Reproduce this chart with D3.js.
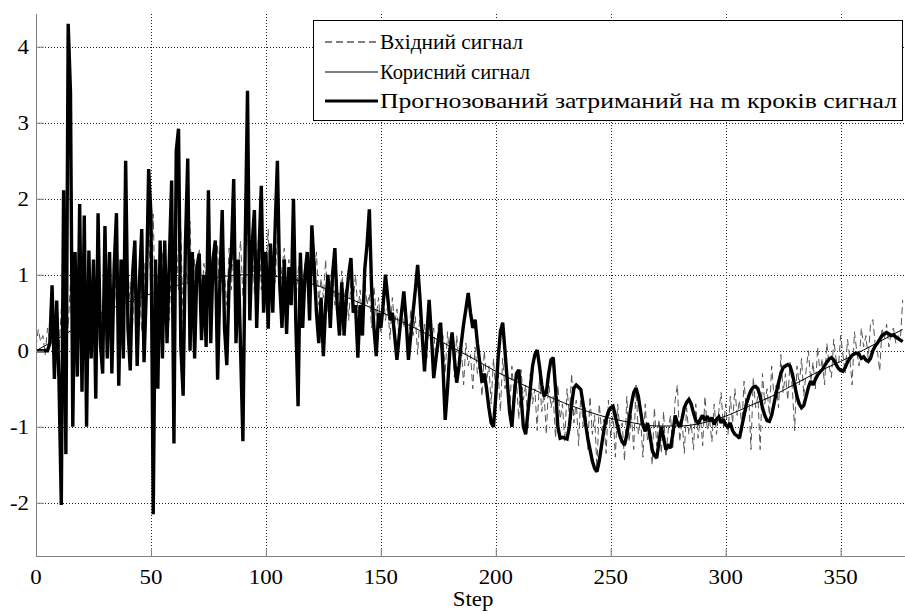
<!DOCTYPE html>
<html>
<head>
<meta charset="utf-8">
<script src="https://cdn.jsdelivr.net/npm/d3@7"></script>
<style>
  body { margin: 0; background: #fff; }
  svg { display: block; }
</style>
</head>
<body>
<svg id="chart" width="905" height="614"></svg>
<script>
// Noisy input signal, one value per step (0..377)
const inputSignal = [
  0.05, 0.28, 0.12, 0.2, -0.05, 0.3, 0.15, 0.45, -0.1, 0.4,
  0.0, 0.55, -0.2, 0.7, 0.3, 0.9, -0.1, 0.6, 0.2, 0.8,
  0.1, 0.55, 0.3, 0.85, 0.05, 0.7, 0.4, 0.9, 0.2, 0.65,
  0.35, 1.0, 0.3, 0.75, 0.5, 1.1, 0.2, 0.8, 0.55, 1.2,
  0.4, 0.9, 0.3, 1.05, 0.6, 0.85, 0.25, 1.15, 0.5, 1.8,
  0.6, 1.8, 0.3, 1.0, 0.55, 1.3, 0.7, 0.95, 0.4, 1.25,
  0.65, 1.5, 0.8, 1.6, 0.35, 1.1, 0.9, 1.7, 0.5, 1.2,
  0.75, 1.35, 0.5, 1.15, 0.95, 1.5, 0.6, 1.25, 0.85, 1.4,
  0.55, 1.2, 1.0, 0.6, 1.35, 0.8, 1.6, 0.45, 1.1, 1.45,
  0.7, 1.3, 1.6, 0.9, 1.45, 0.75, 1.2, 1.55, 0.8, 1.3,
  1.0, 1.6, 0.7, 1.25, 0.9, 1.5, 0.65, 1.1, 1.35, 0.7,
  1.2, 0.85, 1.4, 0.6, 1.05, 1.3, 0.7, 1.15, 0.95, 0.5,
  1.1, 0.8, 1.3, 0.6, 0.95, 0.7, 1.2, 0.5, 0.9, 1.1,
  0.6, 0.95, 0.45, 1.05, 0.7, 0.85, 0.4, 0.9, 0.65, 1.0,
  0.5, 0.8, 0.35, 0.95, 0.6, 0.75, 0.3, 0.85, 0.45, 0.7,
  0.25, 0.8, 0.4, 0.6, 0.15, 0.7, 0.35, 0.55, 0.1, 0.6,
  0.3, 0.5, 0.05, 0.55, 0.2, 0.45, -0.05, 0.5, 0.15, 0.35,
  -0.1, 0.4, 0.1, 0.3, -0.2, 0.35, 0.0, 0.2, -0.3, 0.25,
  -0.1, 0.15, -0.35, 0.2, -0.15, 0.05, -0.45, 0.1, -0.2, -0.05,
  -0.5, 0.05, -0.3, -0.15, -0.6, 0.0, -0.4, -0.2, -0.7, -0.1,
  -0.55, -0.25, -0.8, -0.1, -0.5, -0.35, -0.85, -0.2, -0.6, -0.4,
  -0.9, -0.25, -0.65, -0.45, -1.0, -0.3, -0.7, -0.5, -1.05, -0.35,
  -0.8, -0.55, -1.1, -0.4, -0.75, -0.6, -1.15, -0.45, -0.9, -0.7,
  -1.2, -0.5, -0.85, -0.3, -0.95, -0.65, -1.25, -0.55, -1.0, -0.75,
  -1.3, -0.6, -1.1, -0.85, -1.55, -0.7, -1.05, -0.9, -1.35, -0.65,
  -1.15, -0.8, -1.4, -0.7, -1.05, -0.95, -1.45, -0.6, -1.2, -0.85,
  -1.3, -0.45, -1.1, -0.9, -1.4, -0.7, -1.2, -1.0, -1.5, -0.75,
  -1.25, -0.9, -1.35, -0.8, -1.4, -1.05, -0.85, -1.3, -0.65, -0.45,
  -1.2, -0.9, -1.35, -0.75, -1.1, -0.95, -1.3, -0.7, -1.15, -0.85,
  -1.25, -0.6, -1.05, -0.9, -1.2, -0.7, -1.1, -0.8, -0.55, -1.0,
  -0.7, -1.1, -0.6, -0.95, -0.5, -0.85, -0.65, -1.0, -0.4, -0.8,
  -0.55, -1.3, -0.35, -0.75, -0.6, -1.3, -0.3, -0.7, -0.5, -0.85,
  -0.2, -0.6, -0.45, -0.75, -0.05, -0.55, -0.3, -0.65, -0.15, -0.5,
  -1.05, -0.2, -0.45, -0.1, -0.6, -0.25, 0.0, -0.4, -0.15, -0.5,
  0.05, -0.3, -0.1, -0.45, 0.1, -0.2, -0.35, 0.15, -0.1, -0.25,
  0.2, -0.05, -0.3, 0.15, -0.1, -0.45, 0.25, 0.0, -0.2, 0.3,
  0.05, 0.2, -0.1, 0.35, 0.41, 0.1, 0.0, -0.27, 0.3, 0.15,
  0.35, 0.05, 0.25, 0.3, 0.1, 0.2, 0.15, 0.67
];

// Useful (clean) signal, sampled every ten steps
const usefulSteps = [0, 10, 20, 30, 40, 50, 60, 70, 80, 90, 100, 110, 120, 130, 140, 150, 160, 170, 180, 190,
  200, 210, 220, 230, 240, 250, 260, 270, 280, 290, 300, 310, 320, 330, 340, 350, 360, 370, 377];
const usefulValues = [0.0, 0.17, 0.35, 0.52, 0.64, 0.75, 0.85, 0.92, 0.97, 1.0, 0.99, 0.95, 0.88, 0.77, 0.64, 0.51, 0.37, 0.22, 0.06, -0.10,
  -0.27, -0.42, -0.56, -0.69, -0.80, -0.89, -0.95, -0.99, -0.99, -0.95, -0.86, -0.73, -0.60, -0.44, -0.28, -0.14, 0.01, 0.17, 0.28];

// Predicted signal delayed by m steps, one value per step (0..377)
const predictedSignal = [
  0, 0, 0, 0, 0, 0, 0.1, 0.86, -0.37, 0.66,
  -0.4, -2.03, 2.11, -1.36, 4.30, 3.40, -1.0, 1.3, -0.34, 1.93,
  -0.54, 1.78, -1.0, 1.32, -0.1, 1.2, -0.63, 1.81, 0.1, -0.3,
  1.64, -0.1, 1.3, -0.3, 1.1, 1.81, -0.46, 1.2, -0.1, 2.5,
  0.3, -0.26, 1.0, 1.45, -0.2, 0.9, 1.6, -0.15, 0.8, 2.39,
  1.8, -2.15, 1.2, -0.5, 1.45, -0.1, 1.45, 0.1, 1.2, 2.24,
  -1.22, 2.63, 2.92, 0.05, -0.59, 1.4, 2.53, 0.0, 1.3, -0.1,
  1.1, 1.28, 0.14, 1.0, 0.05, 2.11, 0.1, 1.2, 1.45, -0.38,
  0.9, 1.85, 0.3, -0.19, 0.9, 1.3, 2.26, 0.1, 1.2, 0.0,
  -1.19, 1.4, 3.42, 0.4, 1.4, 1.85, 0.3, 1.3, 2.17, 0.5,
  1.3, 0.29, 1.41, 0.5, 1.6, 2.5, 0.9, 0.3, 1.2, 0.22,
  1.1, 0.6, 2.0, 0.4, -0.73, 1.29, 0.3, 1.0, 1.3, 0.4,
  1.65, 1.1, 0.5, 0.1, 0.7, -0.07, 0.6, 1.0, 0.3, 1.0,
  1.35, 0.6, 0.2, 0.9, 0.2, 0.7, 1.0, 1.22, 0.5, 0.6,
  -0.09, 0.6, 0.2, 1.07, 1.4, 1.86, 0.8, 0.3, -0.07, 0.5,
  0.3, 0.6, 1.0, 0.7, 0.4, 0.5, 0.2, -0.12, 0.2, 0.5,
  0.78, 0.4, -0.12, 0.2, 0.5, 0.8, 1.13, 0.7, 0.2, -0.27,
  0.2, 0.67, 0.2, -0.36, -0.1, 0.15, 0.37, -0.2, -0.91, -0.5,
  0.0, 0.24, -0.1, -0.42, -0.2, 0.1, 0.35, 0.55, 0.76, 0.5,
  0.3, 0.41, 0.1, -0.15, -0.42, -0.3, -0.5, -0.75, -0.95, -1.0,
  -0.6, -0.1, 0.25, 0.37, 0.0, -0.4, -0.8, -1.0, -0.6, -0.3,
  -0.25, -0.6, -1.0, -1.1, -0.8, -0.5, -0.2, -0.05, 0.01, -0.2,
  -0.45, -0.6, -0.55, -0.3, -0.12, -0.09, -0.5, -1.0, -1.15, -1.14,
  -1.15, -1.16, -1.0, -0.7, -0.49, -0.45, -0.48, -0.51, -0.7, -0.95,
  -1.15, -1.3, -1.45, -1.55, -1.59, -1.45, -1.25, -1.05, -0.9, -0.8,
  -0.75, -0.73, -0.85, -1.0, -1.12, -1.2, -1.24, -1.1, -0.9, -0.7,
  -0.55, -0.49, -0.6, -0.8, -0.98, -1.06, -0.95, -1.1, -1.3, -1.38,
  -1.41, -1.2, -1.0, -1.15, -1.3, -1.25, -1.28, -1.1, -0.85, -0.95,
  -1.0, -0.9, -0.75, -0.68, -0.64, -0.7, -0.82, -0.92, -0.95, -0.9,
  -0.85, -0.92, -0.86, -0.93, -0.88, -0.97, -0.9, -0.87, -0.95, -0.9,
  -0.98, -1.0, -0.95, -1.05, -1.1, -1.12, -1.15, -1.0, -0.85, -0.7,
  -0.6, -0.52, -0.48, -0.47, -0.5, -0.6, -0.75, -0.85, -0.92, -0.93,
  -0.85, -0.7, -0.55, -0.42, -0.3, -0.22, -0.2, -0.18, -0.2, -0.3,
  -0.45, -0.6, -0.7, -0.75, -0.72, -0.6, -0.48, -0.4, -0.45, -0.38,
  -0.32, -0.28, -0.25, -0.2, -0.15, -0.11, -0.09, -0.12, -0.18, -0.23,
  -0.26, -0.27, -0.22, -0.15, -0.1, -0.06, -0.04, -0.03, -0.05, -0.1,
  -0.08, -0.12, -0.14, -0.1, 0.0, 0.06, 0.1, 0.15, 0.2, 0.22,
  0.24, 0.22, 0.2, 0.21, 0.18, 0.16, 0.14, 0.12
];

const xTicks = [0, 50, 100, 150, 200, 250, 300, 350];
const yTicks = [-2, -1, 0, 1, 2, 3, 4];
const xLabel = "Step";
const legendLabels = [
  "Вхідний сигнал",
  "Корисний сигнал",
  "Прогнозований затриманий на m кроків сигнал"
];
const legendTextWidths = [143, 150, 517];

const svg = d3.select("#chart");
const plot = { left: 36, right: 905, top: 14, bottom: 556 };
const FONT_FAMILY = "'Liberation Serif', 'Times New Roman', Times, serif";
const FONT = 22, STRETCH = 1.04;

const x = d3.scaleLinear().domain([0, 378]).range([plot.left, plot.right]);
const y = d3.scaleLinear().domain([-2.7, 4.43]).range([plot.bottom, plot.top]);

svg.append("defs").append("clipPath").attr("id", "plotClip")
  .append("rect")
  .attr("x", plot.left).attr("y", plot.top)
  .attr("width", plot.right - plot.left).attr("height", plot.bottom - plot.top);

// dotted grid
const grid = svg.append("g").attr("stroke", "#222").attr("stroke-width", 1)
  .attr("stroke-dasharray", "1,2").attr("fill", "none");
grid.selectAll(".gx").data(xTicks.filter(d => d > 0)).join("line")
  .attr("x1", d => Math.round(x(d)) + 0.5).attr("x2", d => Math.round(x(d)) + 0.5)
  .attr("y1", plot.top).attr("y2", plot.bottom);
grid.selectAll(".gy").data(yTicks).join("line")
  .attr("y1", d => Math.round(y(d)) + 0.5).attr("y2", d => Math.round(y(d)) + 0.5)
  .attr("x1", plot.left).attr("x2", plot.right);

// series: input (dashed), useful (thin), predicted (thick) on top
const lines = svg.append("g").attr("clip-path", "url(#plotClip)").attr("fill", "none");
const stepLine = d3.line().x((d, i) => x(i)).y(d => y(d));

lines.append("path").datum(inputSignal)
  .attr("d", stepLine)
  .attr("stroke", "#555").attr("stroke-width", 1).attr("stroke-dasharray", "7,4");

const usefulLine = d3.line().x(d => x(d[0])).y(d => y(d[1])).curve(d3.curveMonotoneX);
lines.append("path").datum(usefulSteps.map((s, i) => [s, usefulValues[i]]))
  .attr("d", usefulLine)
  .attr("stroke", "#000").attr("stroke-width", 1);

lines.append("path").datum(predictedSignal)
  .attr("d", stepLine)
  .attr("stroke", "#000").attr("stroke-width", 3.4).attr("stroke-linejoin", "miter")
  .attr("stroke-miterlimit", 2);

// axes (left and bottom only)
const axisColor = "#808080";
const yAxis = d3.axisLeft(y).tickValues(yTicks).tickSize(-8).tickFormat("");
const xAxis = d3.axisBottom(x).tickValues(xTicks).tickSize(-8).tickFormat("");
svg.append("g").attr("transform", `translate(${plot.left},0)`).call(yAxis)
  .call(g => g.select(".domain").attr("d", `M0.5,${plot.top}V${plot.bottom}`).attr("stroke", axisColor))
  .call(g => g.selectAll(".tick line").attr("stroke", axisColor));
svg.append("g").attr("transform", `translate(0,${plot.bottom})`).call(xAxis)
  .call(g => g.select(".domain").attr("d", `M${plot.left},0.5H${plot.right}`).attr("stroke", axisColor))
  .call(g => g.selectAll(".tick line").attr("stroke", axisColor));

function stretchedText(parent, tx, ty, str, anchor) {
  return parent.append("text")
    .attr("transform", `translate(${tx},${ty}) scale(${STRETCH},1)`)
    .attr("text-anchor", anchor || "start")
    .attr("font-family", FONT_FAMILY)
    .attr("font-size", FONT)
    .attr("fill", "#000")
    .text(str);
}

const labels = svg.append("g");
yTicks.forEach(t => stretchedText(labels, 29, y(t) + 7, String(t), "end"));
xTicks.forEach(t => stretchedText(labels, x(t), 584, String(t), "middle"));
stretchedText(labels, 473, 606, xLabel, "middle");

// legend
const legend = svg.append("g");
legend.append("rect").attr("x", 313.5).attr("y", 20.5).attr("width", 589).attr("height", 100)
  .attr("fill", "#fff").attr("stroke", "#000").attr("stroke-width", 1);
const legendStyles = [
  { stroke: "#000", width: 1, dash: "7,4" },
  { stroke: "#000", width: 1, dash: null },
  { stroke: "#000", width: 3, dash: null }
];
const rowY = [42, 72, 101];
legendLabels.forEach((label, i) => {
  const s = legendStyles[i];
  legend.append("line").attr("x1", 325).attr("x2", 378).attr("y1", rowY[i]).attr("y2", rowY[i])
    .attr("stroke", s.stroke).attr("stroke-width", s.width).attr("stroke-dasharray", s.dash);
  legend.append("text")
    .attr("x", 380).attr("y", rowY[i] + 7)
    .attr("font-family", FONT_FAMILY)
    .attr("font-size", 21)
    .attr("fill", "#000")
    .attr("textLength", legendTextWidths[i])
    .attr("lengthAdjust", "spacingAndGlyphs")
    .text(label);
});
</script>
</body>
</html>
